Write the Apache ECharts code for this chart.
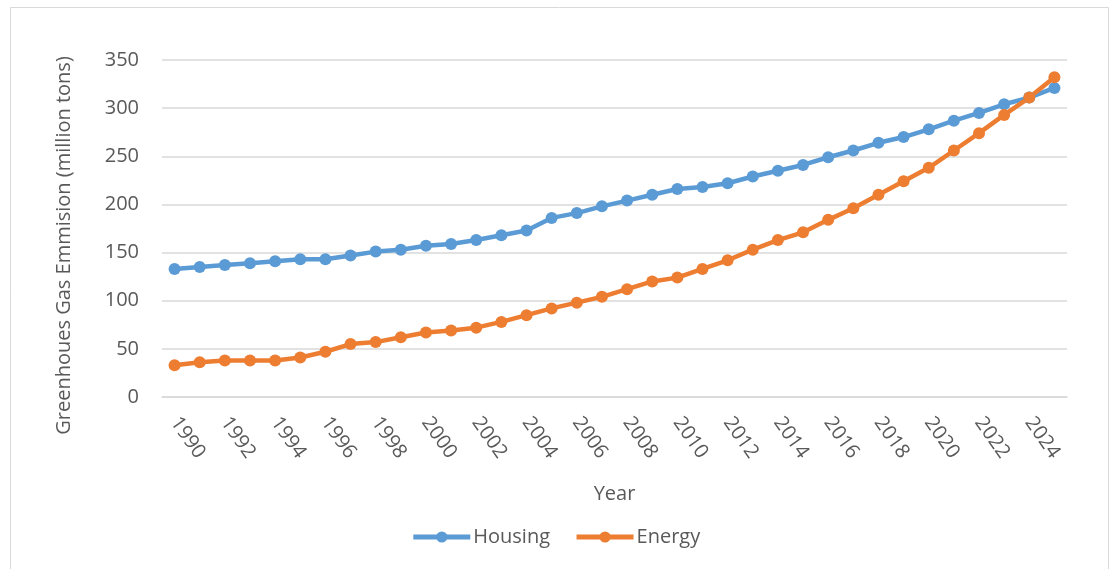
<!DOCTYPE html>
<html>
<head>
<meta charset="utf-8">
<title>Greenhouse Gas Emission by Sector</title>
<script src="https://cdn.jsdelivr.net/npm/echarts@6/dist/echarts.min.js"></script>
<style>
  html, body { margin: 0; padding: 0; background: #ffffff; }
  #chart { width: 1111px; height: 569px; }
</style>
</head>
<body>
<div id="chart"></div>
<script>
// Years on the category axis
const years = [];
for (let y = 1990; y <= 2025; y++) years.push(String(y));

// Emissions per sector, million tons
const housing = [
  133, 135, 137, 139, 141, 143, 143, 147, 151, 153,
  157, 159, 163, 168, 173, 186, 191, 198, 204, 210,
  216, 218, 222, 229, 235, 241, 249, 256, 264, 270,
  278, 287, 295, 304, 311, 321
];
const energy = [
  33, 36, 38, 38, 38, 41, 47, 55, 57, 62,
  67, 69, 72, 78, 85, 92, 98, 104, 112, 120,
  124, 133, 142, 153, 163, 171, 184, 196, 210, 224,
  238, 256, 274, 293, 311, 332
];

// Value-axis ticks
const yTicks = [0, 50, 100, 150, 200, 250, 300, 350];

const textColor = '#595959';
const gridColor = '#d9d9d9';
const fontFamily = '"Open Sans", "Noto Sans", sans-serif';

const chart = echarts.init(document.getElementById('chart'), null, { renderer: 'canvas' });

function lineSeries(name, data, color) {
  return {
    name: name,
    type: 'line',
    data: data,
    symbol: 'circle',
    symbolSize: 12,
    showSymbol: true,
    lineStyle: { color: color, width: 4.5 },
    itemStyle: { color: color },
    emphasis: { disabled: true },
    z: 3
  };
}

chart.setOption({
  animation: false,
  backgroundColor: '#ffffff',
  textStyle: { fontFamily: fontFamily },
  graphic: [{
    type: 'rect',
    shape: { x: 10.5, y: 7.5, width: 1098, height: 580 },
    style: { fill: 'none', stroke: gridColor, lineWidth: 1 },
    silent: true,
    z: -1
  }],
  grid: { left: 162, right: 44, top: 60, bottom: 172, containLabel: false },
  legend: {
    bottom: 17,
    left: 'center',
    itemWidth: 57,
    itemHeight: 14,
    itemGap: 24,
    lineStyle: { width: 5 },
    textStyle: { color: textColor, fontSize: 20, fontFamily: fontFamily, padding: [0, 0, 0, -2] },
    data: ['Housing', 'Energy']
  },
  xAxis: {
    type: 'category',
    data: years,
    boundaryGap: true,
    name: 'Year',
    nameLocation: 'middle',
    nameGap: 87,
    nameTextStyle: { color: textColor, fontSize: 20, fontFamily: fontFamily },
    axisLine: { show: true, lineStyle: { color: gridColor, width: 1.5 } },
    axisTick: { show: false },
    axisLabel: {
      interval: 1,
      rotate: -55,
      margin: 22,
      color: textColor,
      fontSize: 20,
      fontFamily: fontFamily
    },
    splitLine: { show: false }
  },
  yAxis: {
    type: 'value',
    min: yTicks[0],
    max: yTicks[yTicks.length - 1],
    interval: yTicks[1] - yTicks[0],
    name: 'Greenhoues Gas Emmision (million tons)',
    nameLocation: 'middle',
    nameGap: 88,
    nameRotate: 90,
    nameTextStyle: { color: textColor, fontSize: 20, fontFamily: fontFamily, padding: [0, 34, 0, 0] },
    axisLine: { show: false },
    axisTick: { show: false },
    axisLabel: { color: textColor, fontSize: 20, fontFamily: fontFamily, margin: 23 },
    splitLine: { show: true, lineStyle: { color: gridColor, width: 1.5 } }
  },
  series: [
    lineSeries('Housing', housing, '#5b9bd5'),
    lineSeries('Energy', energy, '#ed7d31')
  ]
});
</script>
</body>
</html>
